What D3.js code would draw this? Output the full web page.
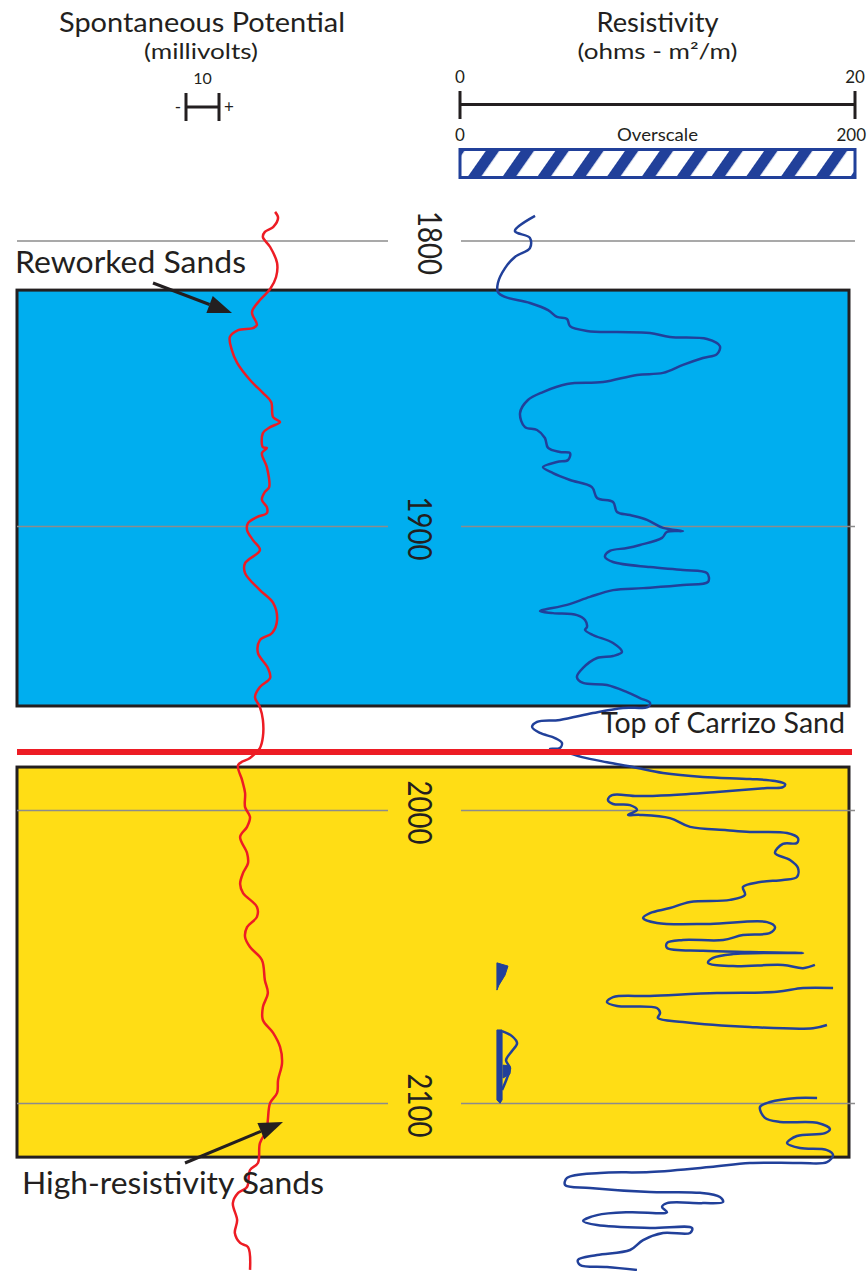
<!DOCTYPE html>
<html>
<head>
<meta charset="utf-8">
<script src="https://cdn.jsdelivr.net/npm/d3@7"></script>
<style>
  html, body { margin: 0; padding: 0; background: #fff; }
  svg { display: block; }
  text { font-family: Lato, "Open Sans", "Noto Sans", sans-serif; fill: #231F20; }
</style>
</head>
<body>
<svg id="chart" width="867" height="1271"></svg>
<script>
// ---------------- DATA ----------------
const depthTicks = [1800, 1900, 2000, 2100];
const resScaleTicks = [0, 20];
const overscaleTicks = [0, 200];
const spScaleSpan = [0, 10];

// zones (depth, ft)
const reworkedZone = [1817.2, 1963.2];
const carrizoZone = [1984.7, 2118.3];
const topCarrizoDepth = 1979.4;

// Spontaneous potential: [relative millivolts, depth]
const spCurve = [
  [27.0,1789.8],[27.9,1791.9],[26.4,1795.1],[23.9,1796.8],[23.3,1798.6],[25.5,1802.1],[27.6,1807.7],
  [27.3,1812.6],[25.5,1816.8],[22.4,1820.7],[20.0,1824.9],[21.5,1829.4],[20.3,1830.5],[15.8,1831.2],
  [13.3,1833.6],[13.9,1838.2],[15.5,1842.7],[19.4,1848.7],[23.3,1853.2],[25.8,1856.4],[26.4,1861.7],
  [28.5,1863.4],[25.5,1865.2],[23.3,1867.3],[23.3,1872.2],[24.5,1872.5],[23.0,1874.3],[24.5,1879.2],
  [25.2,1886.2],[23.9,1887.9],[23.0,1890.7],[24.5,1893.2],[24.5,1895.3],[21.5,1896.7],[18.8,1898.8],
  [18.5,1901.2],[20.3,1904.8],[22.4,1908.3],[17.9,1912.9],[17.9,1916.4],[22.4,1922.4],[26.4,1926.9],
  [27.6,1932.9],[26.1,1937.5],[22.4,1940.0],[21.8,1944.5],[24.8,1949.8],[25.5,1953.3],[22.4,1956.5],
  [20.9,1960.0],[22.4,1963.6],[23.3,1968.1],[23.3,1974.1],[22.4,1978.0],[19.4,1981.5],[15.8,1984.0],
  [17.0,1989.3],[17.9,1993.8],[17.9,1998.8],[19.4,2002.2],[18.5,2005.6],[16.4,2009.0],[18.5,2014.5],
  [18.8,2017.9],[17.3,2021.3],[16.4,2025.1],[17.3,2028.2],[21.5,2032.9],[21.5,2036.3],[18.5,2039.8],
  [17.9,2043.2],[19.4,2046.6],[23.0,2051.0],[23.9,2057.9],[24.8,2062.3],[23.3,2067.1],[23.3,2071.5],
  [26.4,2075.9],[28.5,2080.7],[29.1,2086.2],[27.9,2092.0],[27.6,2096.4],[25.5,2099.8],[24.8,2105.6],
  [24.5,2109.0],[22.4,2113.5],[21.8,2120.3],[19.4,2122.7],[18.5,2128.5],[15.8,2130.5],[14.2,2134.0],
  [15.5,2139.8],[14.8,2144.2],[16.4,2147.6],[18.8,2149.0],[19.4,2156.8]
];

// Resistivity: [ohm-m2/m, depth]; null = break in the trace (overscale)
const resCurve = [
  [3.80,1791.2],[2.78,1796.5],[3.54,1798.9],[3.54,1802.5],[2.78,1805.6],[2.28,1809.5],[1.92,1814.7],
  [1.92,1817.9],[2.28,1819.6],[3.54,1821.7],[4.46,1824.2],[4.91,1826.6],[5.42,1827.3],[5.57,1829.8],
  [6.43,1831.5],[7.95,1831.9],[9.62,1832.2],[10.63,1833.6],[12.51,1834.3],[13.16,1836.8],[13.01,1839.6],
  [12.30,1841.0],[11.29,1843.4],[10.28,1846.2],[8.96,1846.9],[7.24,1849.4],[5.42,1850.1],[4.20,1852.9],
  [3.44,1855.7],[3.04,1860.3],[3.29,1865.2],[3.90,1866.2],[4.30,1869.0],[4.46,1872.5],[5.06,1873.9],
  [5.57,1874.3],[5.47,1876.7],[4.91,1877.4],[4.20,1879.2],[4.71,1881.3],[5.57,1883.7],[6.68,1886.2],
  [6.94,1890.0],[7.75,1891.4],[7.95,1894.9],[8.61,1896.0],[9.47,1897.7],[10.28,1900.5],[11.29,1901.6],
  [10.48,1901.9],[10.23,1904.0],[9.11,1906.5],[8.46,1907.6],[7.59,1908.6],[7.34,1910.7],[7.75,1912.5],
  [9.62,1914.3],[11.29,1915.3],[12.51,1916.4],[12.56,1919.5],[11.29,1920.6],[9.27,1921.7],[7.75,1922.4],
  [6.58,1924.8],[5.42,1927.6],[4.05,1929.8],[4.71,1930.5],[5.92,1931.2],[6.33,1932.9],[6.43,1935.4],
  [6.33,1936.4],[6.73,1938.2],[7.75,1941.0],[8.20,1944.2],[7.75,1945.6],[6.94,1946.3],[6.23,1949.8],
  [5.92,1953.0],[6.23,1955.1],[7.44,1955.8],[8.46,1958.3],[9.11,1960.4],[9.62,1962.1],[9.52,1963.5],
  [8.25,1963.9],[6.73,1965.7],[5.06,1968.1],[3.90,1968.8],[3.65,1970.6],[4.05,1972.7],[4.81,1974.5],
  [5.16,1976.2],[5.06,1978.0],[4.56,1978.3],[5.32,1979.4],[6.18,1981.2],[7.44,1983.0],[8.76,1984.7],
  [10.28,1986.8],[12.30,1988.2],[14.68,1988.9],[15.95,1989.6],[16.46,1990.7],[16.35,1991.8],[15.55,1992.1],
  [13.01,1993.5],[10.63,1994.6],[8.96,1994.9],[7.70,1994.6],[7.49,1996.3],[7.75,1997.7],[8.61,1998.1],
  [8.96,1999.8],[8.51,2001.5],[9.11,2001.5],[10.63,2002.6],[11.65,2005.6],[13.52,2006.7],[14.68,2007.3],
  [16.56,2007.7],[17.11,2009.4],[17.06,2011.1],[16.35,2011.4],[15.95,2014.5],[16.71,2016.9],[17.11,2019.6],
  [17.06,2022.7],[16.35,2023.7],[15.19,2024.4],[14.33,2026.1],[14.43,2028.8],[13.67,2030.5],[11.65,2031.2],
  [10.63,2033.3],[9.62,2035.0],[9.27,2036.7],[9.97,2038.4],[12.66,2038.7],[15.55,2038.1],[15.95,2039.8],
  [15.70,2041.8],[14.33,2042.5],[13.32,2044.2],[11.29,2044.2],[10.48,2045.2],[10.48,2046.9],[12.30,2047.9],
  [14.68,2048.3],[17.37,2048.6],[13.82,2049.0],[12.81,2050.3],[12.56,2052.0],[13.82,2053.1],[16.35,2052.7],
  [17.37,2053.8],[17.97,2052.7],
  null,
  [18.89,2060.6],[17.37,2060.6],[16.05,2061.9],[13.01,2062.3],[9.62,2063.3],[7.75,2063.7],[7.44,2065.4],
  [7.95,2066.7],[9.97,2067.4],[10.13,2069.1],[10.02,2070.8],[11.29,2072.2],[14.68,2073.9],[17.87,2074.3],
  [18.58,2073.2],
  null,
  [18.08,2098.1],[17.06,2098.1],[15.70,2099.5],[15.19,2101.2],[15.44,2104.9],[16.20,2106.3],[18.08,2106.6],
  [18.73,2108.7],[18.48,2110.1],[17.06,2111.1],[16.56,2113.5],[17.21,2115.2],[18.58,2115.9],[18.89,2117.6],
  [18.58,2120.0],[17.21,2120.3],[14.68,2120.3],[12.66,2121.7],[9.62,2123.4],[7.09,2123.7],[5.42,2125.4],
  [5.32,2127.8],[6.58,2128.8],[9.62,2130.2],[12.15,2130.5],[13.16,2131.9],[13.32,2133.6],[12.30,2134.0],
  [10.48,2134.0],[10.23,2135.3],[10.48,2137.1],[8.61,2137.1],[6.94,2138.1],[6.23,2140.1],[6.94,2141.5],
  [9.62,2142.5],[11.75,2142.5],[11.65,2144.2],[10.28,2144.2],[9.27,2146.6],[8.61,2150.0],[6.94,2151.7],
  [5.97,2153.4],[6.08,2155.1],[7.44,2155.8],[8.96,2156.8]
];

// small low-resistivity blots near the left of the resistivity track
const resBlotA = [[1.87,2052.0],[2.43,2053.1],[2.28,2056.2],[1.97,2059.6],[1.87,2061.3]];
const resBlotB = [[1.87,2074.9],[2.13,2074.9],[2.13,2098.8],[2.03,2099.9],[1.87,2098.8]];
const resBlotC = [[2.18,2086.9],[2.53,2087.2],[2.53,2089.9],[2.18,2091.3]];
const resLoop = [[2.13,2075.3],[2.63,2077.0],[2.89,2079.4],[2.63,2082.1],[2.33,2085.2],[2.53,2087.9],[2.38,2091.3],[2.13,2095.4]];

// ---------------- SCALES ----------------
const svg = d3.select("#chart");
const W = 867, H = 1271;
const yScale = d3.scaleLinear().domain(depthTicks).range([241, 526.5, 810.5, 1103.5]);
const resX = d3.scaleLinear().domain(resScaleTicks).range([460, 855]);
const overX = d3.scaleLinear().domain(overscaleTicks).range([460, 855]);
const spX = d3.scaleLinear().domain(spScaleSpan).range([186, 219]);

const INK = "#231F20", CYAN = "#00AEEF", YELLOW = "#FFDD15", RED = "#ED1C24", BLUE = "#21409A", GRID = "#8C8C8C";
const trackL = 17, trackR = 849;

svg.append("rect").attr("width", W).attr("height", H).attr("fill", "#fff");

// pattern for overscale bar
const defs = svg.append("defs");
const pat = defs.append("pattern").attr("id", "hatch").attr("patternUnits", "userSpaceOnUse")
  .attr("width", 28.5).attr("height", 40).attr("patternTransform", "rotate(35)");
pat.append("rect").attr("width", 28.5).attr("height", 40).attr("fill", "#fff");
pat.append("rect").attr("width", 11).attr("height", 40).attr("fill", BLUE);

// ---------------- ZONES ----------------
svg.append("rect").attr("x", trackL).attr("y", yScale(reworkedZone[0]))
  .attr("width", trackR - trackL).attr("height", yScale(reworkedZone[1]) - yScale(reworkedZone[0]))
  .attr("fill", CYAN).attr("stroke", INK).attr("stroke-width", 3);
svg.append("rect").attr("x", trackL).attr("y", yScale(carrizoZone[0]))
  .attr("width", trackR - trackL).attr("height", yScale(carrizoZone[1]) - yScale(carrizoZone[0]))
  .attr("fill", YELLOW).attr("stroke", INK).attr("stroke-width", 3);

// ---------------- GRID ----------------
const grid = svg.append("g");
depthTicks.forEach(d => {
  grid.append("line").attr("x1", trackL).attr("x2", 388).attr("y1", yScale(d)).attr("y2", yScale(d))
    .attr("stroke", GRID).attr("stroke-width", 1.5);
  grid.append("line").attr("x1", resX(0) + 1).attr("x2", resX(20)).attr("y1", yScale(d)).attr("y2", yScale(d))
    .attr("stroke", GRID).attr("stroke-width", 1.5);
  const lx = d === 1800 ? 430 : 420.5;
  grid.append("text").attr("transform", `translate(${lx},${yScale(d) + 2}) rotate(90)`)
    .attr("text-anchor", "middle").attr("dominant-baseline", "central")
    .attr("textLength", 64).attr("lengthAdjust", "spacingAndGlyphs")
    .style("font-size", "32px").text(d);
});

// ---------------- CURVES ----------------
const spLine = d3.line().x(d => spX(d[0])).y(d => yScale(d[1])).curve(d3.curveCatmullRom.alpha(0.5));
svg.append("path").datum(spCurve).attr("d", spLine).attr("fill", "none")
  .attr("stroke", RED).attr("stroke-width", 2.5).attr("stroke-linejoin", "round");

const resLine = d3.line().defined(d => d !== null).x(d => resX(d[0])).y(d => yScale(d[1]))
  .curve(d3.curveCatmullRom.alpha(0.5));
svg.append("path").datum(resCurve).attr("d", resLine).attr("fill", "none")
  .attr("stroke", BLUE).attr("stroke-width", 2.5).attr("stroke-linejoin", "round");

const blot = d3.line().x(d => resX(d[0])).y(d => yScale(d[1])).curve(d3.curveLinearClosed);
[resBlotA, resBlotB, resBlotC].forEach(b => {
  svg.append("path").datum(b).attr("d", blot).attr("fill", BLUE).attr("stroke", BLUE).attr("stroke-width", 1);
});
svg.append("path").datum(resLoop).attr("d", resLine).attr("fill", "none").attr("stroke", BLUE).attr("stroke-width", 2.5);

// Top of Carrizo line
svg.append("line").attr("x1", trackL).attr("x2", 852)
  .attr("y1", yScale(topCarrizoDepth)).attr("y2", yScale(topCarrizoDepth))
  .attr("stroke", RED).attr("stroke-width", 6);
svg.append("text").attr("x", 601).attr("y", 733).style("font-size", "28px")
  .attr("textLength", 244).attr("lengthAdjust", "spacingAndGlyphs").text("Top of Carrizo Sand");

// ---------------- ANNOTATIONS ----------------
function arrow(x1, y1, x2, y2) {
  const a = Math.atan2(y2 - y1, x2 - x1), L = 24, Wd = 9;
  const bx = x2 - L * Math.cos(a), by = y2 - L * Math.sin(a);
  svg.append("line").attr("x1", x1).attr("y1", y1).attr("x2", bx).attr("y2", by)
    .attr("stroke", INK).attr("stroke-width", 3);
  const p = [[x2, y2], [bx + Wd * Math.sin(a), by - Wd * Math.cos(a)], [bx - Wd * Math.sin(a), by + Wd * Math.cos(a)]];
  svg.append("path").attr("d", "M" + p.map(q => q.join(",")).join("L") + "Z").attr("fill", INK);
}
svg.append("text").attr("x", 15).attr("y", 273).style("font-size", "30px")
  .attr("textLength", 231).attr("lengthAdjust", "spacingAndGlyphs").text("Reworked Sands");
arrow(153, 283, 232, 313);
svg.append("text").attr("x", 22).attr("y", 1194).style("font-size", "30px")
  .attr("textLength", 302).attr("lengthAdjust", "spacingAndGlyphs").text("High-resistivity Sands");
arrow(185, 1163, 283, 1122);

// ---------------- HEADER ----------------
svg.append("text").attr("x", 202).attr("y", 32).attr("text-anchor", "middle").style("font-size", "26px")
  .attr("textLength", 286).attr("lengthAdjust", "spacingAndGlyphs").text("Spontaneous Potential");
svg.append("text").attr("x", 201).attr("y", 59).attr("text-anchor", "middle").style("font-size", "21px")
  .attr("textLength", 114).attr("lengthAdjust", "spacingAndGlyphs").text("(millivolts)");
svg.append("text").attr("x", (spX(0) + spX(10)) / 2).attr("y", 84).attr("text-anchor", "middle").style("font-size", "16px").text("10");
svg.append("line").attr("x1", spX(0)).attr("x2", spX(10)).attr("y1", 107).attr("y2", 107).attr("stroke", INK).attr("stroke-width", 3);
spScaleSpan.forEach(v => svg.append("line").attr("x1", spX(v)).attr("x2", spX(v)).attr("y1", 93).attr("y2", 121).attr("stroke", INK).attr("stroke-width", 3));
svg.append("text").attr("x", spX(0) - 8).attr("y", 113).attr("text-anchor", "middle").style("font-size", "17px").text("-");
svg.append("text").attr("x", spX(10) + 10).attr("y", 113).attr("text-anchor", "middle").style("font-size", "17px").text("+");

svg.append("text").attr("x", resX(10)).attr("y", 32).attr("text-anchor", "middle").style("font-size", "26px")
  .attr("textLength", 122).attr("lengthAdjust", "spacingAndGlyphs").text("Resistivity");
svg.append("text").attr("x", resX(10)).attr("y", 59).attr("text-anchor", "middle").style("font-size", "21px")
  .attr("textLength", 160).attr("lengthAdjust", "spacingAndGlyphs").text("(ohms - m²/m)");
resScaleTicks.forEach(v => {
  svg.append("text").attr("x", resX(v)).attr("y", 83).attr("text-anchor", "middle").style("font-size", "17px").text(v);
  svg.append("line").attr("x1", resX(v)).attr("x2", resX(v)).attr("y1", 91).attr("y2", 119).attr("stroke", INK).attr("stroke-width", 3);
});
svg.append("line").attr("x1", resX(0)).attr("x2", resX(20)).attr("y1", 104.5).attr("y2", 104.5).attr("stroke", INK).attr("stroke-width", 3);
overscaleTicks.forEach(v => {
  const t = svg.append("text").attr("y", 141).style("font-size", "17px").text(v);
  if (v === 200) t.attr("x", W - 1).attr("text-anchor", "end");
  else t.attr("x", overX(v)).attr("text-anchor", "middle");
});
svg.append("text").attr("x", overX(100)).attr("y", 141).attr("text-anchor", "middle").style("font-size", "18px")
  .attr("textLength", 81).attr("lengthAdjust", "spacingAndGlyphs").text("Overscale");
svg.append("rect").attr("x", overX(0)).attr("y", 149.5).attr("width", overX(200) - overX(0)).attr("height", 28)
  .attr("fill", "url(#hatch)").attr("stroke", BLUE).attr("stroke-width", 3);
</script>
</body>
</html>
